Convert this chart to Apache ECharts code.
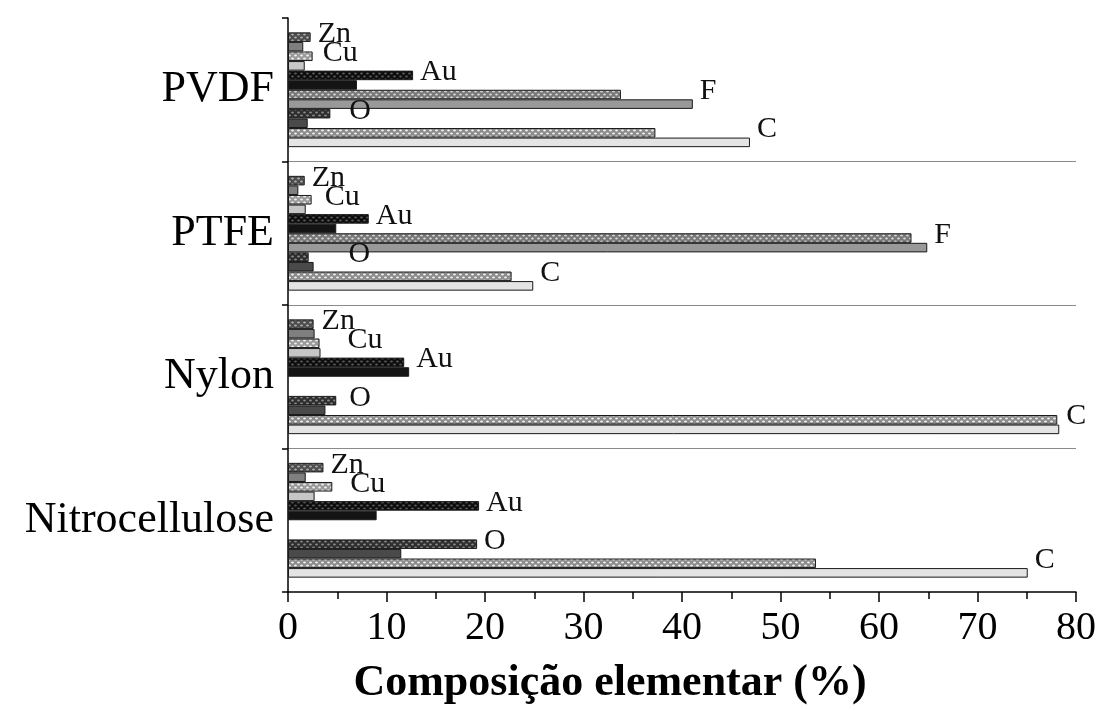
<!DOCTYPE html>
<html>
<head>
<meta charset="utf-8">
<script src="https://cdn.jsdelivr.net/npm/echarts@6/dist/echarts.min.js"></script>
<style>
html,body{margin:0;padding:0;background:#fff;overflow:hidden;}
#chart{width:1099px;height:711px;}
</style>
</head>
<body>
<div id="chart"></div>
<script>
// ---- data ----
const groups = ['PVDF', 'PTFE', 'Nylon', 'Nitrocellulose'];
const elements = ['Zn', 'Cu', 'Au', 'F', 'O', 'C'];
const xTicks = [0, 10, 20, 30, 40, 50, 60, 70, 80];
const xTitle = 'Composição elementar (%)';
// hatched bar (upper of each pair) and plain bar (lower), per group
const zn1 = [2.3, 1.7, 2.6, 3.6];
const zn2 = [1.55, 1.05, 2.7, 1.8];
const cu1 = [2.5, 2.4, 3.2, 4.5];
const cu2 = [1.7, 1.8, 3.3, 2.7];
const au1 = [12.7, 8.2, 11.8, 19.4];
const au2 = [7.0, 4.9, 12.3, 9.0];
const f1 = [33.8, 63.3, null, null];
const f2 = [41.1, 64.9, null, null];
const o1 = [4.3, 2.1, 4.9, 19.2];
const o2 = [2.0, 2.6, 3.8, 11.5];
const c1 = [37.3, 22.7, 78.1, 53.6];
const c2 = [46.9, 24.9, 78.3, 75.1];

const pairs = [[zn1, zn2], [cu1, cu2], [au1, au2], [f1, f2], [o1, o2], [c1, c2]];

// ---- styles ----
const SERIF = "'Liberation Serif', 'Times New Roman', 'DejaVu Serif', serif";
const hatchStyle = [
  ['#4d4d4d', '#b0b0b0'],
  ['#9a9a9a', '#f2f2f2'],
  ['#0d0d0d', '#5a5a5a'],
  ['#777777', '#d8d8d8'],
  ['#2e2e2e', '#8a8a8a'],
  ['#8c8c8c', '#f4f4f4']
];
const plainColor = ['#7f7f7f', '#c6c6c6', '#141414', '#999999', '#4a4a4a', '#e4e4e4'];
// extra horizontal nudge (px) of the hand-placed element labels, per group
const labelNudge = {
  Zn: [0, 0, 0, 0],
  Cu: [3, 6, 20, 11],
  Au: [0, 0, 0, 0],
  F: [0, 0, 0, 0],
  O: [12, 28, 6, 0],
  C: [0, 0, 0, 0]
};

function makePattern(bg, fg) {
  const c = document.createElement('canvas');
  c.width = 6; c.height = 6;
  const ctx = c.getContext('2d');
  ctx.fillStyle = bg; ctx.fillRect(0, 0, 6, 6);
  ctx.fillStyle = fg;
  ctx.beginPath(); ctx.ellipse(1.5, 1.5, 1.4, 1.1, 0, 0, Math.PI * 2); ctx.fill();
  ctx.beginPath(); ctx.ellipse(4.5, 4.5, 1.4, 1.1, 0, 0, Math.PI * 2); ctx.fill();
  return { image: c, repeat: 'repeat' };
}

const BAR_W = 9.8;
function labelFor(name, g, isLower) {
  return {
    show: true,
    position: 'right',
    distance: 7,
    offset: [labelNudge[name][g], isLower ? -BAR_W - 3 : -3],
    formatter: name,
    fontFamily: SERIF,
    fontSize: 30,
    color: '#111'
  };
}

const series = [];
pairs.forEach((p, i) => {
  const [a, b] = p;
  const dataA = a.map((v, g) => {
    const item = { value: v };
    if (v != null && v >= (b[g] || 0)) item.label = labelFor(elements[i], g, false);
    return item;
  });
  const dataB = b.map((v, g) => {
    const item = { value: v };
    if (v != null && v > (a[g] || 0)) item.label = labelFor(elements[i], g, true);
    return item;
  });
  series.push({
    type: 'bar', name: elements[i] + ' a', data: dataA,
    barGap: 0, barCategoryGap: '20%',
    itemStyle: { color: makePattern(hatchStyle[i][0], hatchStyle[i][1]), borderColor: '#1a1a1a', borderWidth: 1 },
    silent: true, animation: false
  });
  series.push({
    type: 'bar', name: elements[i] + ' b', data: dataB,
    barGap: 0, barCategoryGap: '20%',
    itemStyle: { color: plainColor[i], borderColor: '#1a1a1a', borderWidth: 1 },
    silent: true, animation: false
  });
});

const chart = echarts.init(document.getElementById('chart'), null, { renderer: 'canvas' });
chart.setOption({
  backgroundColor: '#fff',
  animation: false,
  grid: { left: 288, right: 21, top: 18, bottom: 105, containLabel: false },
  xAxis: {
    type: 'value', min: xTicks[0], max: xTicks[xTicks.length - 1], interval: 10,
    axisLine: { show: true, lineStyle: { color: '#000', width: 1.5 } },
    axisTick: { show: true, length: 10, lineStyle: { color: '#000', width: 1.5 } },
    minorTick: { show: true, splitNumber: 2, length: 7, lineStyle: { color: '#000', width: 1.5 } },
    splitLine: { show: false },
    axisLabel: { fontFamily: SERIF, fontSize: 40, color: '#000', margin: 16 },
    name: xTitle, nameLocation: 'middle', nameGap: 70,
    nameTextStyle: { fontFamily: SERIF, fontSize: 44, fontWeight: 'bold', color: '#000', padding: [0, 144, 0, 0] }
  },
  yAxis: {
    type: 'category', data: groups, inverse: true,
    axisLine: { show: true, lineStyle: { color: '#000', width: 1.5 } },
    axisTick: { show: true, length: 6, lineStyle: { color: '#000', width: 1.5 } },
    splitLine: { show: true, showMinLine: false, showMaxLine: false, lineStyle: { color: '#8a8a8a', width: 1.2 } },
    axisLabel: { fontFamily: SERIF, fontSize: 44, color: '#000', margin: 14 }
  },
  series: series
});
</script>
</body>
</html>
